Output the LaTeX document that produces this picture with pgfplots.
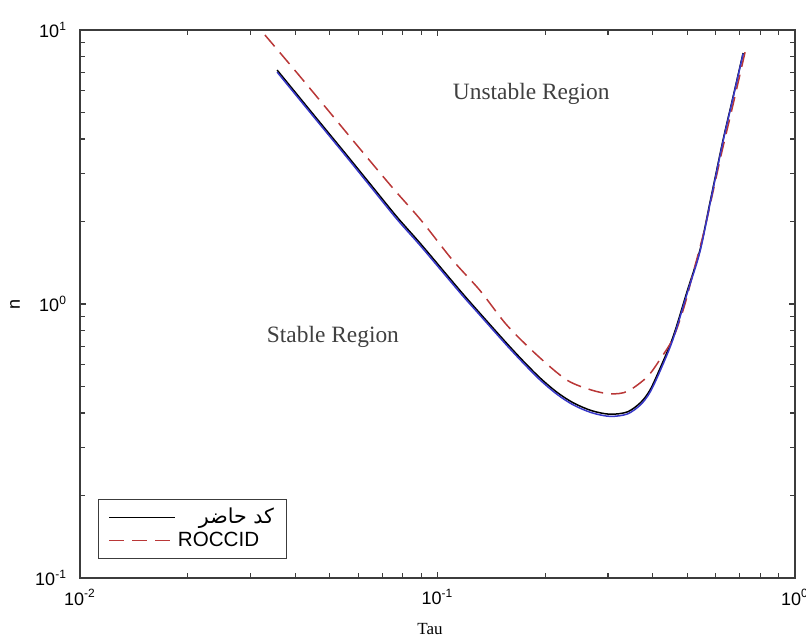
\documentclass[border=0pt]{standalone}
\usepackage{fontspec}
\setmainfont{Liberation Serif}
\setsansfont{Liberation Sans}
\newfontfamily\arabicfont[Script=Arabic]{DejaVu Sans}
\TeXXeTstate=1
\usepackage{pgfplots}
\pgfplotsset{compat=1.18}
\definecolor{cblue}{RGB}{55,55,200}
\definecolor{cred}{RGB}{185,55,55}
\definecolor{axgray}{RGB}{60,60,60}
\begin{document}
\begin{tikzpicture}
\begin{axis}[
  name=ax,
  scale only axis, width=357.5pt, height=274pt,
  xmode=log, ymode=log,
  xmin=0.01, xmax=1, ymin=0.1, ymax=10,
  xtick={0.01,0.1,1},
  xticklabels={10\textsuperscript{-2},10\textsuperscript{-1},10\textsuperscript{0}},
  ytick={0.1,1,10},
  yticklabels={10\textsuperscript{-1},10\textsuperscript{0},10\textsuperscript{1}},
  minor xtick={0.02,0.03,0.04,0.05,0.06,0.07,0.08,0.09,0.2,0.3,0.4,0.5,0.6,0.7,0.8,0.9},
  minor ytick={0.2,0.3,0.4,0.5,0.6,0.7,0.8,0.9,2,3,4,5,6,7,8,9},
  tick align=inside, tick pos=both,
  major tick length=2.8pt, minor tick length=2.5pt,
  every tick/.style={axgray, line width=0.6pt},
  axis line style={axgray, line width=0.7pt},
  ticklabel style={font=\sffamily\fontsize{9}{10}\selectfont},
  yticklabel style={xshift=-3pt},
  xticklabel style={yshift=-2pt},
  xlabel={Tau},
  xlabel style={font=\rmfamily\fontsize{8.5}{10}\selectfont, at={(axis description cs:0.4895,0)}, anchor=center, yshift=-25.5pt},
  ylabel={n},
  ylabel style={font=\sffamily\fontsize{9}{10}\selectfont, at={(axis description cs:-0.091,0.5)}, anchor=center},
  legend style={at={(axis description cs:0.0252,0.0347)}, anchor=south west,
    draw=axgray, line width=0.6pt, inner xsep=5pt, inner ysep=3pt,
    nodes={inner sep=1.2pt},
    font=\sffamily\fontsize{10.3}{11.1}\selectfont},
  legend cell align=left,
  legend image code/.code={\draw[#1] plot coordinates {(0cm,0cm) (1.15cm,0cm)};},
]
\addplot[black, line width=0.75pt, smooth] coordinates {
(0.0356,7.14) (0.045,4.91) (0.055,3.57) (0.065,2.73) (0.077,2.08) (0.09,1.65)
(0.1156,1.12) (0.13,0.94) (0.156,0.72) (0.175,0.613) (0.194,0.536) (0.216,0.476)
(0.24,0.4355) (0.27,0.408) (0.304,0.396) (0.34,0.404) (0.37,0.437) (0.393,0.485)
(0.42,0.585) (0.456,0.759) (0.50,1.12) (0.542,1.57) (0.58,2.39) (0.629,3.96)
(0.67,5.65) (0.716,8.24)};
\addlegendentry{\makebox[48pt][r]{\strut\arabicfont\beginR کد حاضر\endR}}
\addplot[cred, line width=0.75pt, dash pattern=on 7.5pt off 4pt, smooth] coordinates {
(0.0329,9.59) (0.04,7.1) (0.05,5.0) (0.06,3.75) (0.075,2.65) (0.09,2.02)
(0.11,1.45) (0.1315,1.12) (0.156,0.84) (0.19,0.65) (0.23,0.528) (0.27,0.485)
(0.305,0.47) (0.34,0.48) (0.386,0.542) (0.42,0.63) (0.456,0.75) (0.49,0.98)
(0.519,1.3) (0.56,1.9) (0.62,3.45) (0.67,5.3) (0.725,8.3)};
\addlegendentry{\makebox[48pt][l]{\strut ROCCID}}
\addplot[cblue, line width=0.75pt, smooth, forget plot] coordinates {
(0.0356,7.02) (0.045,4.83) (0.055,3.51) (0.065,2.68) (0.077,2.04) (0.09,1.62)
(0.1156,1.10) (0.13,0.925) (0.156,0.708) (0.175,0.603) (0.194,0.527) (0.216,0.468)
(0.24,0.428) (0.27,0.401) (0.304,0.389) (0.34,0.397) (0.37,0.429) (0.393,0.476)
(0.42,0.572) (0.456,0.745) (0.50,1.10) (0.542,1.55) (0.58,2.36) (0.629,3.92)
(0.67,5.6) (0.716,8.2)};
\node[font=\rmfamily\fontsize{11.7}{13}\selectfont, text=black!75] at (axis cs:0.183,5.84) {Unstable Region};
\node[font=\rmfamily\fontsize{11.7}{13}\selectfont, text=black!75] at (axis cs:0.051,0.759) {Stable Region};
\end{axis}
\pgfresetboundingbox
\path[use as bounding box] ([shift={(-40pt,-29.5pt)}]ax.south west) rectangle ([shift={(5.5pt,15pt)}]ax.north east);
\end{tikzpicture}
\end{document}
